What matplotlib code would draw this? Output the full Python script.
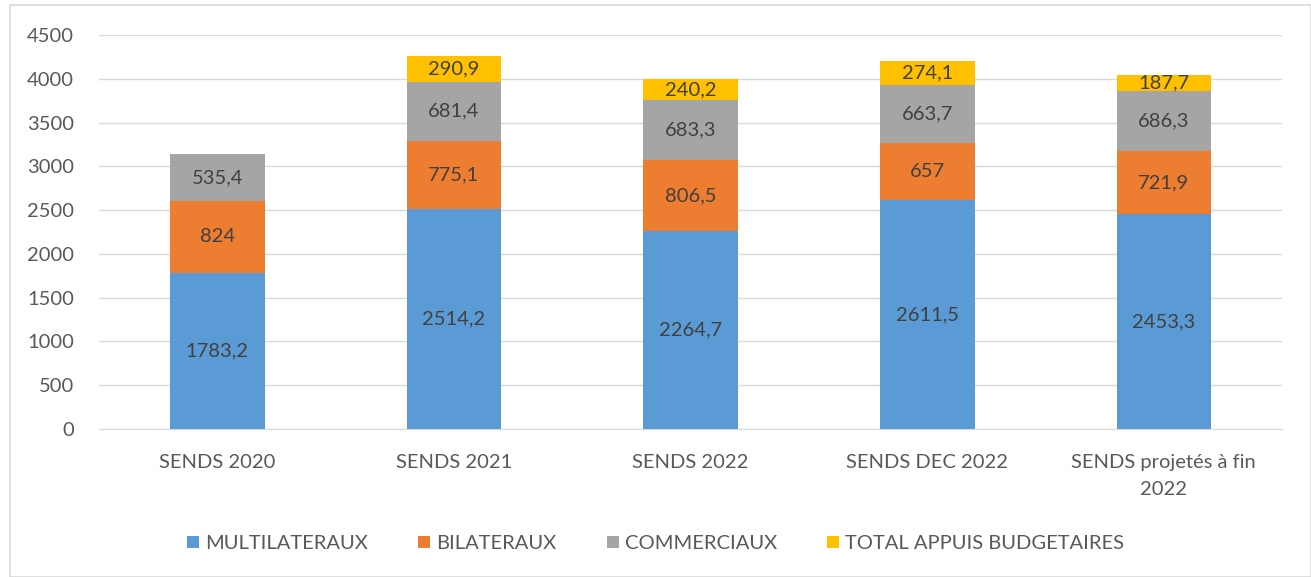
import matplotlib
matplotlib.use("Agg")
import matplotlib.pyplot as plt
from matplotlib.patches import Rectangle
import numpy as np

plt.rcParams['font.family'] = ['Lato', 'DejaVu Sans']

categories = ["SENDS 2020", "SENDS 2021", "SENDS 2022", "SENDS DEC 2022", "SENDS projetés à fin\n2022"]
series_names = ["MULTILATERAUX", "BILATERAUX", "COMMERCIAUX", "TOTAL APPUIS BUDGETAIRES"]
multilateraux = [1783.2, 2514.2, 2264.7, 2611.5, 2453.3]
bilateraux = [824, 775.1, 806.5, 657, 721.9]
commerciaux = [535.4, 681.4, 683.3, 663.7, 686.3]
appuis = [None, 290.9, 240.2, 274.1, 187.7]
colors = ["#5B9BD5", "#ED7D31", "#A5A5A5", "#FFC000"]
yticks = [0, 500, 1000, 1500, 2000, 2500, 3000, 3500, 4000, 4500]

def fmt(v):
    s = ("%g" % v)
    return s.replace(".", ",")

fig = plt.figure(figsize=(13.11, 5.77), dpi=100)
ax = fig.add_axes([0.0755, 0.2565, 0.9025, 0.6825])
x = np.arange(len(categories))
bottom = np.zeros(len(categories))
for name, vals, c in zip(series_names, [multilateraux, bilateraux, commerciaux, appuis], colors):
    v = np.array([0 if a is None else a for a in vals], dtype=float)
    ax.bar(x, v, 0.4, bottom=bottom, color=c, label=name, zorder=3)
    for xi, bi, vi, orig in zip(x, bottom, v, vals):
        if orig is None:
            continue
        ax.text(xi, bi + vi / 2, fmt(orig), ha='center', va='center', fontsize=14.5, color='#404040', zorder=4)
    bottom += v

ax.set_xlim(-0.5, len(categories) - 0.5)
ax.set_ylim(0, 4500)
ax.set_yticks(yticks)
ax.set_yticklabels([str(t) for t in yticks])
ax.set_xticks(x)
ax.set_xticklabels(categories, linespacing=1.7)
ax.grid(axis='y', color='#D9D9D9', linewidth=1, zorder=0)
for s in ['top', 'right', 'left']:
    ax.spines[s].set_visible(False)
ax.spines['bottom'].set_color('#D9D9D9')
ax.tick_params(axis='both', length=0, labelsize=14.5, colors='#595959')
ax.tick_params(axis='y', pad=18)
ax.tick_params(axis='x', pad=18)

fig.legend(loc='center', bbox_to_anchor=(0.5, 0.058), ncol=4, frameon=False, fontsize=14.5,
           handlelength=0.6, handleheight=0.6, handletextpad=0.3, columnspacing=2.5, labelcolor='#595959')

fig.patches.append(Rectangle((10/1311, 0), 1 - 10/1311, 1 - 5/577, transform=fig.transFigure,
                             fill=False, edgecolor='#D9D9D9', linewidth=1.2))
fig.savefig("out.png", dpi=100)
